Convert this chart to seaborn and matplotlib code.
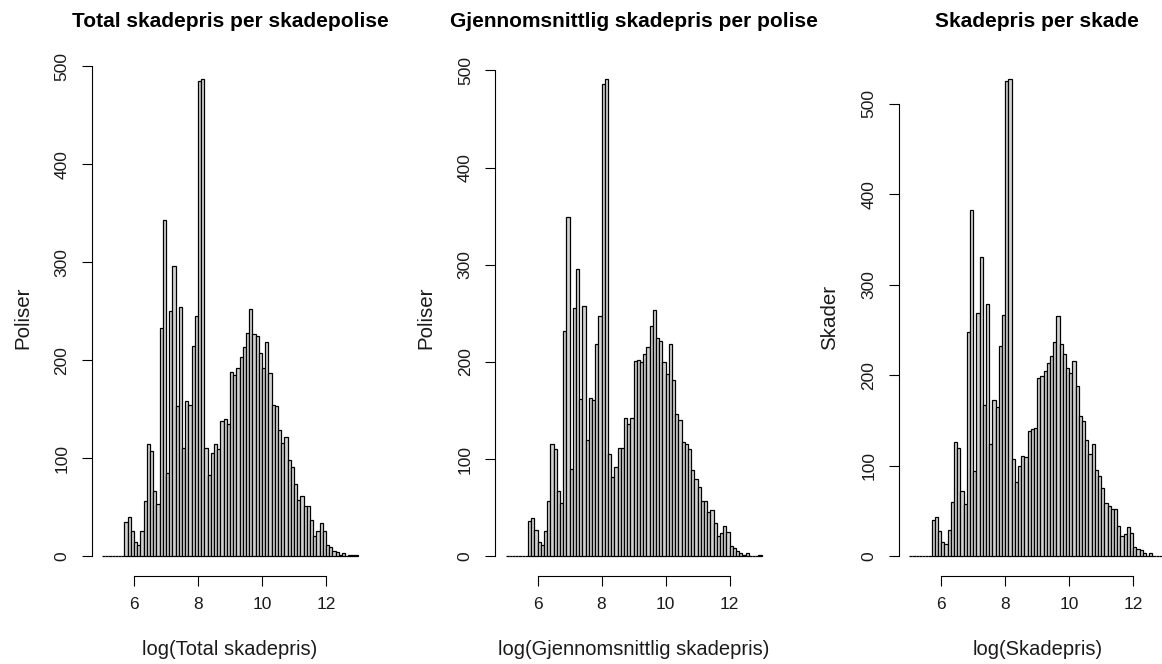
import numpy as np
import pandas as pd
import matplotlib
matplotlib.use("Agg")
import matplotlib.pyplot as plt
import seaborn as sns

# Histogram layout: bins of width 0.1 on the log scale, starting at 5.0.
bin_start = 5.0
bin_width = 0.1
empty_left = 7  # bins 5.0-5.7 hold no observations

# Counts per bin from 5.7 to 13.0
total_counts = [35, 40, 26, 15, 12, 26, 57, 115, 108, 67,
                53, 233, 343, 85, 250, 296, 153, 254, 111, 159,
                154, 215, 245, 485, 487, 111, 83, 105, 115, 110,
                138, 140, 135, 188, 185, 192, 203, 214, 228, 252,
                227, 225, 208, 192, 219, 187, 154, 153, 129, 116,
                122, 98, 91, 74, 58, 62, 51, 51, 37, 21,
                26, 34, 26, 12, 10, 6, 4, 1, 3, 0,
                1, 1, 1]

avg_counts = [36, 40, 27, 15, 12, 26, 57, 116, 110, 67,
              55, 232, 349, 90, 256, 296, 162, 258, 120, 163,
              161, 218, 247, 486, 491, 105, 82, 92, 112, 112,
              142, 136, 142, 201, 202, 200, 208, 215, 237, 253,
              225, 222, 200, 188, 218, 181, 147, 140, 118, 116,
              111, 89, 80, 71, 57, 57, 46, 48, 34, 21,
              24, 31, 25, 11, 9, 6, 4, 1, 3, 0,
              0, 0, 1]

claim_counts = [40, 43, 28, 16, 14, 29, 60, 126, 120, 72,
                58, 248, 383, 94, 269, 331, 167, 279, 124, 173,
                165, 232, 266, 525, 527, 107, 82, 100, 111, 110,
                139, 141, 142, 197, 199, 205, 213, 221, 237, 265,
                235, 224, 208, 202, 216, 188, 155, 150, 129, 113,
                124, 95, 89, 75, 59, 56, 52, 52, 34, 22,
                25, 32, 26, 10, 8, 7, 4, 1, 4, 1,
                0, 0, 1]

titles = ["Total skadepris per skadepolise",
          "Gjennomsnittlig skadepris per polise",
          "Skadepris per skade"]
xlabels = ["log(Total skadepris)",
           "log(Gjennomsnittlig skadepris)",
           "log(Skadepris)"]
ylabels = ["Poliser", "Poliser", "Skader"]
xticks = [6, 8, 10, 12]
yticks = [0, 100, 200, 300, 400, 500]

sns.set_style("ticks")
plt.rcParams["font.family"] = ["Liberation Sans", "DejaVu Sans"]

W, H = 1162, 664
fig = plt.figure(figsize=(W / 100, H / 100), dpi=100)

panel_left = [91.7, 495.3, 899.0]
panel_w = 276.5
panel_top, panel_bottom = 60.0, 575.5
panel_h = panel_bottom - panel_top

for i, counts in enumerate([total_counts, avg_counts, claim_counts]):
    full = [0] * empty_left + counts
    n = len(full)
    edges = [round(bin_start + bin_width * k, 1) for k in range(n + 1)]
    centers = [(edges[k] + edges[k + 1]) / 2 for k in range(n)]
    df = pd.DataFrame({"value": centers, "count": full})

    ax = fig.add_axes([panel_left[i] / W, (H - panel_bottom) / H,
                       panel_w / W, panel_h / H])
    sns.histplot(data=df, x="value", weights="count", bins=edges, ax=ax,
                 color="#d3d3d3", edgecolor="black", linewidth=0.9,
                 alpha=1)

    lo, hi = edges[0], edges[-1]
    pad = 0.04 * (hi - lo)
    ax.set_xlim(lo - pad, hi + pad)
    ymax = max(full)
    ax.set_ylim(-0.04 * ymax, 1.04 * ymax)

    ax.set_xticks(xticks)
    ax.set_yticks(yticks)
    ax.set_xticklabels([str(t) for t in xticks])
    ax.set_yticklabels([str(t) for t in yticks], rotation=90, va="center")
    ax.tick_params(axis="both", direction="out", length=7.2, width=0.8,
                   color="black", labelsize=12.5, labelcolor="#1a1a1a")
    ax.tick_params(axis="x", pad=8)
    ax.tick_params(axis="y", pad=9)
    for s in ["left", "bottom"]:
        ax.spines[s].set_linewidth(0.8)
        ax.spines[s].set_color("black")
    sns.despine(ax=ax, trim=True)

    ax.set_xlabel(xlabels[i], fontsize=14.5, color="#1a1a1a")
    ax.set_ylabel(ylabels[i], fontsize=14.8, color="#1a1a1a")
    ax.xaxis.set_label_coords(0.5, -(640 - panel_bottom) / panel_h)
    ax.yaxis.set_label_coords(-(91.7 - 32) / panel_w, 0.5)
    ax.text(0.5, 1 + (panel_top - 21.5) / panel_h, titles[i],
            transform=ax.transAxes, ha="center", va="center",
            fontsize=15, fontweight="bold", color="black")

fig.savefig("out.png", dpi=100)
